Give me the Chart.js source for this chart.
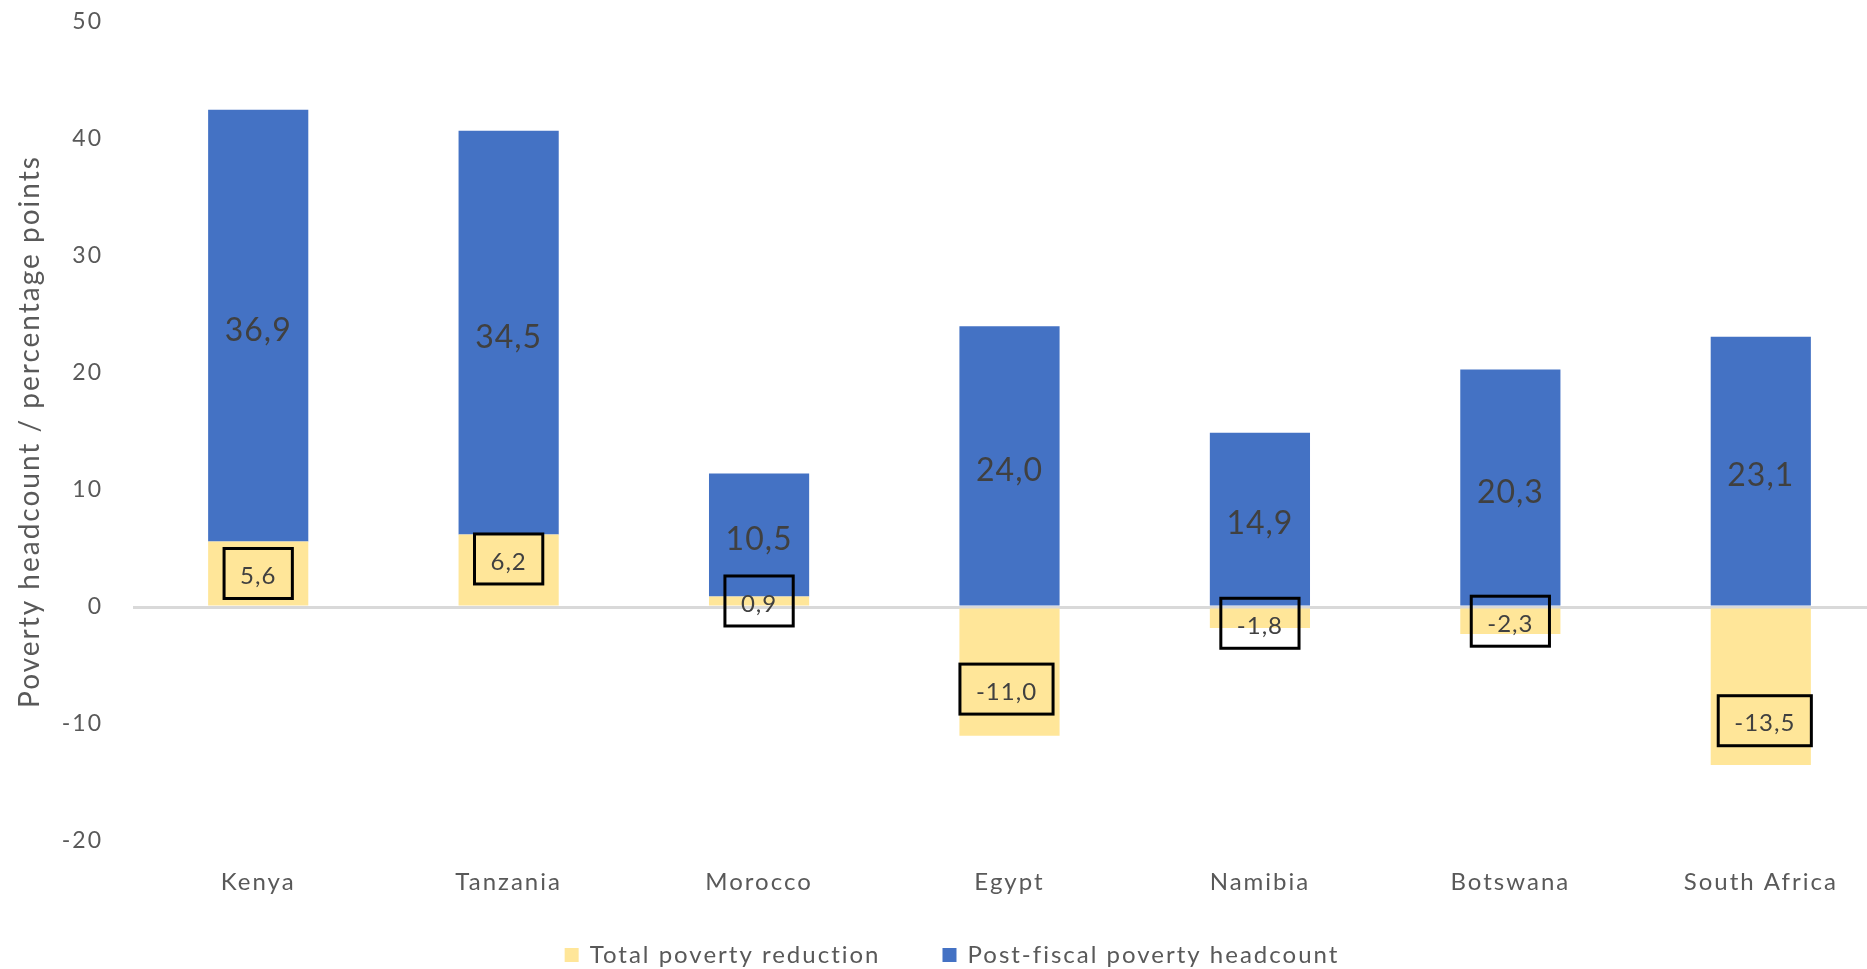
<!DOCTYPE html>
<html>
<head>
<meta charset="utf-8">
<script src="https://cdn.jsdelivr.net/npm/chart.js@4"></script>
<style>
  html, body { margin: 0; padding: 0; background: #fff; overflow: hidden; }
  #wrap { width: 1890px; height: 969px; }
</style>
</head>
<body>
<div id="wrap"><canvas id="pobreza"></canvas></div>
<script>
const countries = ['Kenya', 'Tanzania', 'Morocco', 'Egypt', 'Namibia', 'Botswana', 'South Africa'];
const totalReduction = [5.6, 6.2, 0.9, -11.0, -1.8, -2.3, -13.5];
const postFiscal = [36.9, 34.5, 10.5, 24.0, 14.9, 20.3, 23.1];
const yTicks = [-20, -10, 0, 10, 20, 30, 40, 50];

// desplazamiento manual de las etiquetas con recuadro (px)
const boxShiftY = [0, -11, 0, 17, 5, 0, 34];
const boxShiftX = [0, 0, 0, -3, 0, 0, 4];

const AMARILLO = '#FFE699';
const AZUL = '#4472C4';
const GRIS = '#595959';
const FUENTE = 'Lato';

const fmt = v => v.toFixed(1).replace('.', ',');

// el texto de Excel sale algo espaciado
const espaciado = {
  id: 'espaciado',
  beforeDraw(chart) { chart.ctx.letterSpacing = '2px'; }
};

const etiquetas = {
  id: 'etiquetas',
  afterDatasetsDraw(chart) {
    const ctx = chart.ctx;
    ctx.save();
    ctx.letterSpacing = '1px';
    ctx.textAlign = 'center';
    ctx.textBaseline = 'middle';

    chart.getDatasetMeta(1).data.forEach((bar, i) => {
      ctx.font = `32px ${FUENTE}`;
      ctx.fillStyle = '#404040';
      ctx.fillText(fmt(postFiscal[i]), bar.x, (bar.y + bar.base) / 2 + 5);
    });

    chart.getDatasetMeta(0).data.forEach((bar, i) => {
      ctx.font = `24px ${FUENTE}`;
      const txt = fmt(totalReduction[i]);
      const w = ctx.measureText(txt).width + 32;
      const h = 50;
      const cx = bar.x + boxShiftX[i];
      const cy = (bar.y + bar.base) / 2 + boxShiftY[i];
      ctx.lineWidth = 3;
      ctx.strokeStyle = '#000';
      ctx.strokeRect(cx - w / 2, cy - h / 2, w, h);
      ctx.fillStyle = '#404040';
      ctx.fillText(txt, cx, cy + 3);
    });
    ctx.restore();
  }
};

const leyenda = {
  id: 'leyenda',
  afterDraw(chart) {
    const ctx = chart.ctx;
    ctx.save();
    ctx.font = `24px ${FUENTE}`;
    ctx.letterSpacing = '2px';
    ctx.textBaseline = 'middle';
    const items = chart.data.datasets.map(d => ({
      text: d.label,
      color: d.backgroundColor,
      w: 25 + ctx.measureText(d.label).width
    }));
    const gap = 62;
    const total = items.reduce((s, it) => s + it.w, 0) + gap * (items.length - 1);
    let x = chart.width / 2 - total / 2 + 7;
    const y = chart.height - 14;
    items.forEach(it => {
      ctx.fillStyle = it.color;
      ctx.fillRect(x, y - 7, 14, 14);
      ctx.fillStyle = GRIS;
      ctx.fillText(it.text, x + 25, y);
      x += it.w + gap;
    });
    ctx.restore();
  }
};

new Chart(document.getElementById('pobreza'), {
  type: 'bar',
  data: {
    labels: countries,
    datasets: [
      {
        label: 'Total poverty reduction',
        data: totalReduction,
        backgroundColor: AMARILLO,
        categoryPercentage: 1,
        barPercentage: 0.4
      },
      {
        label: 'Post-fiscal poverty headcount',
        data: postFiscal,
        backgroundColor: AZUL,
        categoryPercentage: 1,
        barPercentage: 0.4
      }
    ]
  },
  options: {
    responsive: true,
    maintainAspectRatio: false,
    animation: false,
    layout: { padding: { top: 22, right: 4, left: 0, bottom: 48 } },
    plugins: {
      legend: { display: false },
      tooltip: { enabled: false }
    },
    scales: {
      x: {
        stacked: true,
        grid: { display: false },
        border: { display: false },
        ticks: {
          color: GRIS,
          font: { family: FUENTE, size: 24 },
          padding: 19,
          maxRotation: 0,
          autoSkip: false
        },
        afterFit(scale) { scale.height = 80; }
      },
      y: {
        stacked: true,
        min: yTicks[0],
        max: yTicks[yTicks.length - 1],
        grid: {
          drawTicks: false,
          color: c => c.tick && c.tick.value === 0 ? '#D9D9D9' : 'rgba(0,0,0,0)',
          lineWidth: 3
        },
        border: { display: false },
        ticks: {
          stepSize: 10,
          color: GRIS,
          font: { family: FUENTE, size: 23 },
          padding: 30
        },
        title: {
          display: true,
          text: 'Poverty headcount / percentage points',
          color: GRIS,
          font: { family: FUENTE, size: 28 },
          padding: { top: 13, bottom: 0 }
        },
        afterFit(scale) {
          scale.width = 133;
          scale.paddingTop = 0;
          scale.paddingBottom = 0;
        }
      }
    }
  },
  plugins: [espaciado, etiquetas, leyenda]
});
</script>
</body>
</html>
